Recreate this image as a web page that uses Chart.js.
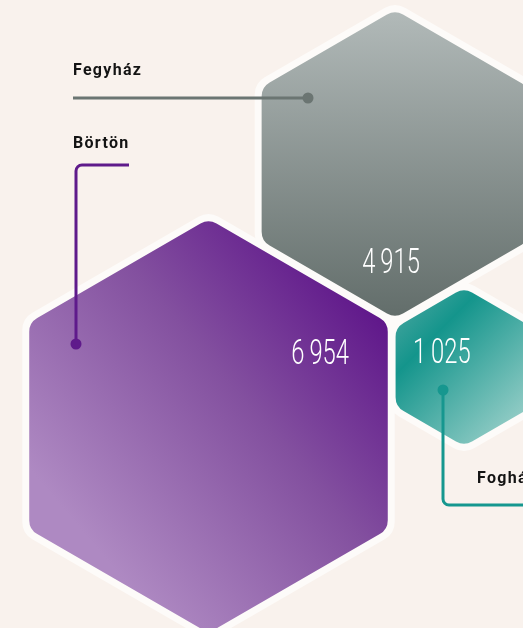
<!DOCTYPE html>
<html>
<head>
<meta charset="utf-8">
<script src="https://cdn.jsdelivr.net/npm/chart.js@4/dist/chart.umd.min.js"></script>
<style>
  html, body { margin: 0; padding: 0; background: #f9f2ed; }
  #wrap { width: 523px; height: 628px; position: relative; }
</style>
</head>
<body>
<div id="wrap"><canvas id="hex_plot"></canvas></div>
<script>
'use strict';

// Data
const categories = ['Börtön', 'Fegyház', 'Fogház'];
const values = [6954, 4915, 1025];

// Layout on a 523 x 628 grid (same units as the hidden scales)
const centerX = [208.5, 395, 464];
const centerY = [426, 164, 367];
const hexRadius = [207, 154, 79];

// where the numbers sit, and how they are aligned
const valueX = [349, 391, 413];
const valueY = [364, 273, 363];
const valueAlign = ['right', 'center', 'left'];

// label text and the leader lines
const labelX = [73, 73, 477];
const labelY = [148, 75, 483];
const leaderPaths = [
    [[129, 165], [76, 165], [76, 344]],
    [[73, 98], [308, 98]],
    [[443, 390], [443, 505], [540, 505]]
];
const dotAt = [[76, 344], [308, 98], [443, 390]];
const leaderColors = ['#5f1a8b', '#6b7572', '#16978f'];

function formatNumber(v) {
    // hungarian style, thin space as thousands separator
    return String(v).replace(/\B(?=(\d{3})+(?!\d))/g, '\u2009');
}

function hexPath(ctx, cx, cy, R, rc) {
    const pts = [];
    for (let k = 0; k < 6; k++) {
        const a = (-90 + 60 * k) * Math.PI / 180;
        pts.push([cx + R * Math.cos(a), cy + R * Math.sin(a)]);
    }
    ctx.beginPath();
    ctx.moveTo((pts[5][0] + pts[0][0]) / 2, (pts[5][1] + pts[0][1]) / 2);
    for (let k = 0; k < 6; k++) {
        const p = pts[k], n = pts[(k + 1) % 6];
        ctx.arcTo(p[0], p[1], n[0], n[1], rc);
    }
    ctx.closePath();
}

function makeFill(ctx, i, cx, cy, R) {
    var g;
    if (i === 0) {
        g = ctx.createLinearGradient(cx - 0.55 * R, cy + 0.58 * R, cx + 0.85 * R, cy - 0.6 * R);
        g.addColorStop(0, '#ae89c2');
        g.addColorStop(0.55, '#83509f');
        g.addColorStop(1, '#5d1389');
    } else if (i === 1) {
        g = ctx.createLinearGradient(cx, cy - R, cx, cy + R);
        g.addColorStop(0, '#b2bab9');
        g.addColorStop(1, '#626d6a');
    } else {
        g = ctx.createLinearGradient(cx - 0.85 * R, cy - 0.9 * R, cx + 0.9 * R, cy + 0.85 * R);
        g.addColorStop(0, '#4ea7a1');
        g.addColorStop(0.28, '#14958c');
        g.addColorStop(1, '#a9d6d0');
    }
    return g;
}

const hexPlugin = {
    id: 'hexagons',
    afterDatasetsDraw(chart) {
        const ctx = chart.ctx;
        const xs = chart.scales.x, ys = chart.scales.y;
        const meta = chart.getDatasetMeta(0);
        const X = v => xs.getPixelForValue(v);
        const Y = v => ys.getPixelForValue(v);

        ctx.save();
        // white outlines first
        meta.data.forEach((el, i) => {
            const R = el.options.radius;
            hexPath(ctx, el.x, el.y, R + 8, 20);
            ctx.fillStyle = '#fdfbf9';
            ctx.fill();
        });
        meta.data.forEach((el, i) => {
            const R = el.options.radius;
            hexPath(ctx, el.x, el.y, R, 16);
            ctx.fillStyle = makeFill(ctx, i, el.x, el.y, R);
            ctx.fill();
        });

        // numbers
        ctx.fillStyle = '#ffffff';
        ctx.textBaseline = 'alphabetic';
        ctx.font = '300 35px Roboto';
        values.forEach((v, i) => {
            ctx.save();
            ctx.translate(X(valueX[i]), Y(valueY[i]));
            ctx.scale(0.68, 1);
            ctx.textAlign = valueAlign[i];
            ctx.fillText(formatNumber(v), 0, 0);
            ctx.restore();
        });

        // leader lines
        ctx.lineWidth = 3;
        ctx.lineCap = 'butt';
        ctx.lineJoin = 'round';
        leaderPaths.forEach((path, i) => {
            ctx.strokeStyle = leaderColors[i];
            ctx.beginPath();
            ctx.moveTo(X(path[0][0]), Y(path[0][1]));
            for (let k = 1; k < path.length; k++) {
                const p = path[k];
                if (k < path.length - 1) {
                    const n = path[k + 1];
                    ctx.arcTo(X(p[0]), Y(p[1]), X(n[0]), Y(n[1]), 6);
                } else {
                    ctx.lineTo(X(p[0]), Y(p[1]));
                }
            }
            ctx.stroke();
            ctx.fillStyle = leaderColors[i];
            ctx.beginPath();
            ctx.arc(X(dotAt[i][0]), Y(dotAt[i][1]), 5.5, 0, Math.PI * 2);
            ctx.fill();
        });

        // category labels
        ctx.fillStyle = '#141414';
        ctx.font = 'bold 16px Roboto';
        ctx.textAlign = 'left';
        ctx.letterSpacing = '1.3px';
        categories.forEach((c, i) => {
            ctx.fillText(c, X(labelX[i]), Y(labelY[i]));
        });
        ctx.restore();
    }
};

const config = {
    type: 'bubble',
    data: {
        labels: categories,
        datasets: [{
            label: 'Fogvatartottak',
            data: categories.map((c, i) => ({ x: centerX[i], y: centerY[i], r: hexRadius[i], v: values[i] })),
            backgroundColor: 'rgba(0,0,0,0)',
            borderWidth: 0,
            hoverRadius: 0
        }]
    },
    options: {
        responsive: true,
        maintainAspectRatio: false,
        animation: false,
        layout: { padding: 0, autoPadding: false },
        plugins: {
            legend: { display: false },
            tooltip: { enabled: false }
        },
        scales: {
            x: { type: 'linear', min: 0, max: 523, display: false },
            y: { type: 'linear', min: 0, max: 628, reverse: true, display: false }
        }
    },
    plugins: [hexPlugin]
};

new Chart(document.getElementById('hex_plot'), config);
</script>
</body>
</html>
